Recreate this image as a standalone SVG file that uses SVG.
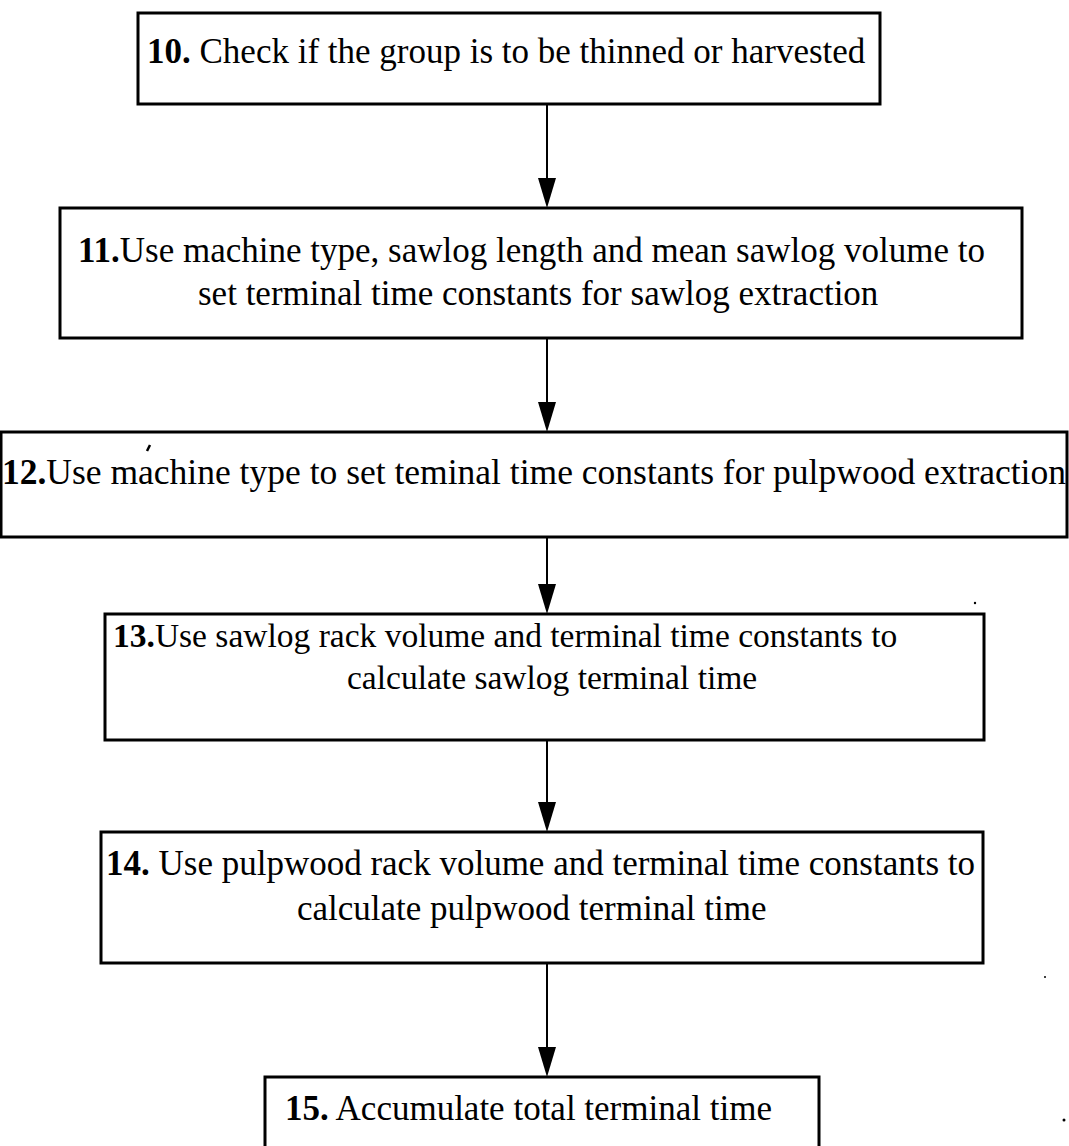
<svg xmlns="http://www.w3.org/2000/svg" width="1069" height="1146" viewBox="0 0 1069 1146">
<defs>
<style>
.box{fill:#fff;stroke:#000;stroke-width:3}
.t{font-family:"Liberation Serif","Times New Roman",serif;font-size:35px;fill:#000}
.n{font-weight:bold}
.c{stroke:#000;stroke-width:2;fill:none}
.h{fill:#000}
</style>
</defs>
<rect width="1069" height="1146" fill="#fff"/>
<g id="connectors">
<line class="c" x1="547" y1="104" x2="547" y2="180"/>
<polygon class="h" points="538,178 556,178 547,208"/>
<line class="c" x1="547" y1="338" x2="547" y2="404"/>
<polygon class="h" points="538,402 556,402 547,432"/>
<line class="c" x1="547" y1="537" x2="547" y2="586"/>
<polygon class="h" points="538,584 556,584 547,614"/>
<line class="c" x1="547" y1="740" x2="547" y2="804"/>
<polygon class="h" points="538,802 556,802 547,832"/>
<line class="c" x1="547" y1="963" x2="547" y2="1049"/>
<polygon class="h" points="538,1047 556,1047 547,1077"/>
</g>
<g id="node10">
<rect class="box" x="138" y="13" width="742" height="91"/>
<text class="t" x="147" y="63"><tspan class="n">10.</tspan> Check if the group is to be thinned or harvested</text>
</g>
<g id="node11">
<rect class="box" x="60" y="208" width="962" height="130"/>
<text class="t" x="78" y="262"><tspan class="n">11.</tspan>Use machine type, sawlog length and mean sawlog volume to</text>
<text class="t" x="198" y="305">set terminal time constants for sawlog extraction</text>
</g>
<g id="node12">
<rect class="box" x="1" y="432" width="1066" height="105"/>
<text class="t" x="2" y="484" textLength="1064" lengthAdjust="spacingAndGlyphs"><tspan class="n">12.</tspan>Use machine type to set teminal time constants for pulpwood extraction</text>
<path d="M150,445 L147,451" stroke="#000" stroke-width="2.5"/>
</g>
<g id="node13">
<rect class="box" x="105" y="614" width="879" height="126"/>
<text class="t" x="113" y="647" style="font-size:33.5px"><tspan class="n">13.</tspan>Use sawlog rack volume and terminal time constants to</text>
<text class="t" x="347" y="689" style="font-size:33.5px">calculate sawlog terminal time</text>
</g>
<g id="node14">
<rect class="box" x="101" y="832" width="882" height="131"/>
<text class="t" x="106" y="875"><tspan class="n">14.</tspan> Use pulpwood rack volume and terminal time constants to</text>
<text class="t" x="297" y="920">calculate pulpwood terminal time</text>
</g>
<g id="node15">
<rect class="box" x="265" y="1077" width="554" height="90"/>
<text class="t" x="285" y="1120"><tspan class="n">15.</tspan> Accumulate total terminal time</text>
</g>
<circle cx="975" cy="603" r="1.2" fill="#000"/>
<circle cx="1045" cy="977" r="1" fill="#000"/>
<circle cx="1064" cy="1120" r="1.5" fill="#000"/>
</svg>
